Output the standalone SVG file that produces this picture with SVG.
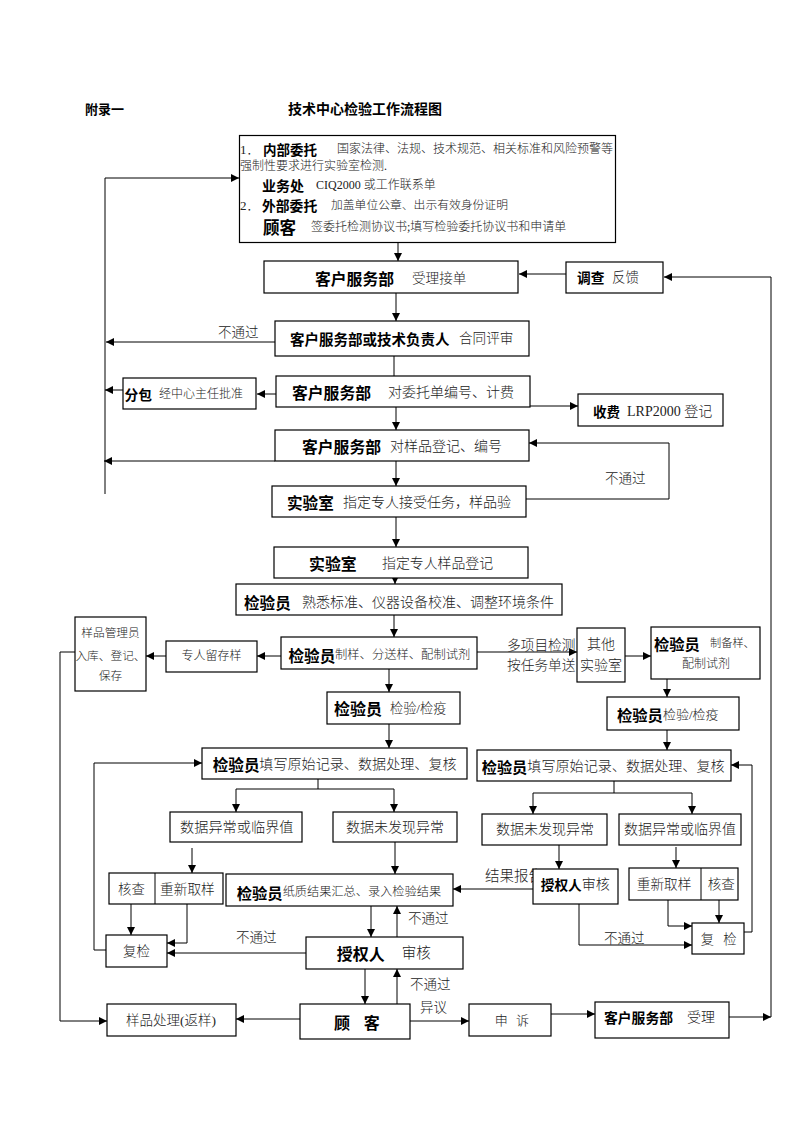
<svg xmlns="http://www.w3.org/2000/svg" width="800" height="1132" viewBox="0 0 800 1132">
<style>
.b{fill:#fff;stroke:#000;stroke-width:1.2}
.c{fill:none;stroke:#000;stroke-width:1}
.a{marker-end:url(#ah)}
text{dominant-baseline:central}
.h{font-family:"Noto Sans CJK SC",sans-serif;font-weight:bold;fill:#000}
.n{font-family:"Liberation Serif","Noto Sans CJK SC",serif;fill:#222;font-weight:300}
.m{text-anchor:middle}
</style>
<defs>
<marker id="ah" markerUnits="userSpaceOnUse" markerWidth="9" markerHeight="8" refX="8" refY="4" orient="auto">
<path d="M0,0 L8,4 L0,8 z" fill="#000"/>
</marker>
</defs>
<rect width="800" height="1132" fill="#fff"/>

<g id="title">
<text class="h" x="85" y="108" font-size="13">附录一</text>
<text class="h" x="288" y="108" font-size="14">技术中心检验工作流程图</text>
</g>

<g id="connectors">
<path class="c a" d="M398,242 V261"/>
<path class="c a" d="M105,494 V178 H239"/>
<path class="c a" d="M566,274 H519"/>
<path class="c a" d="M729,1017 H771"/>
<path class="c a" d="M771,1017 V277 H664"/>
<path class="c a" d="M396,277 V321"/>
<path class="c a" d="M275,342 H106"/>
<text class="n" x="218" y="332" font-size="13.5">不通过</text>
<path class="c" d="M394,356 V398"/>
<path class="c a" d="M276,394 H257"/>
<path class="c a" d="M123,390 H105"/>
<path class="c a" d="M530,406 H578"/>
<path class="c a" d="M396,407 V430"/>
<path class="c a" d="M275,461 H104"/>
<path class="c a" d="M396,461 V486"/>
<path class="c a" d="M526,499 H669 V443 H529"/>
<text class="n" x="605" y="478" font-size="13.5">不通过</text>
<path class="c a" d="M396,517 V547"/>
<path class="c a" d="M395,557 V584"/>
<path class="c a" d="M394,615 V637"/>
<path class="c a" d="M281,656 H257"/>
<path class="c a" d="M166,656 H146"/>
<path class="c a" d="M75,652 H60 V1021 H107"/>
<path class="c a" d="M477,652 H577"/>
<text class="n" x="507" y="645" font-size="13.7">多项目检测</text>
<text class="n" x="507" y="665" font-size="13.7">按任务单送</text>
<path class="c a" d="M625,656 H651"/>
<path class="c a" d="M667,679 V697"/>
<path class="c a" d="M389,669 V692"/>
<path class="c a" d="M389,724 V748"/>
<path class="c a" d="M667,730 V750"/>
<path class="c" d="M318,779 V789 M236,789 H394"/>
<path class="c a" d="M236,789 V812"/>
<path class="c a" d="M394,789 V812"/>
<path class="c a" d="M192,848 V873"/>
<path class="c a" d="M131,904 V935"/>
<path class="c a" d="M187,904 V943 H167"/>
<path class="c a" d="M106,950 H94 V763 H202"/>
<path class="c a" d="M395,842 V874"/>
<path class="c a" d="M371,906 V937"/>
<path class="c a" d="M397,937 V906"/>
<text class="n" x="408" y="918" font-size="13.5">不通过</text>
<path class="c a" d="M306,953 H167"/>
<text class="n" x="236" y="937" font-size="13.5">不通过</text>
<path class="c a" d="M365,969 V1004"/>
<path class="c a" d="M397,1004 V969"/>
<text class="n" x="410" y="984" font-size="13.5">不通过</text>
<text class="n" x="420" y="1007" font-size="13.5">异议</text>
<path class="c a" d="M300,1019 H236"/>
<path class="c a" d="M410,1021 H469"/>
<path class="c a" d="M551,1014 H595"/>
<path class="c" d="M614,781 V793 M533,793 H692"/>
<path class="c a" d="M533,793 V814"/>
<path class="c a" d="M692,793 V814"/>
<path class="c a" d="M559,845 V869"/>
<text class="n" x="485" y="876" font-size="14.5">结果报告</text>
<path class="c a" d="M533,889 H453"/>
<path class="c a" d="M579,904 V945 H692"/>
<text class="n" x="604" y="938" font-size="13.5">不通过</text>
<path class="c a" d="M676,847 V868"/>
<path class="c a" d="M668,900 V926 H692"/>
<path class="c a" d="M719,900 V923"/>
<path class="c a" d="M744,932 H752 V765 H731"/>
</g>

<g id="n_top">
<rect class="b" x="239.5" y="135.5" width="376" height="107"/>
<text y="149"><tspan class="n" x="240" font-size="13">1．</tspan><tspan class="h" x="263" font-size="13.5">内部委托</tspan><tspan class="n" x="337" font-size="12">国家法律、法规、技术规范、相关标准和风险预警等</tspan></text>
<text class="n" x="240" y="166" font-size="12">强制性要求进行实验室检测.</text>
<text y="185"><tspan class="h" x="262" font-size="14">业务处</tspan><tspan class="n" x="316" font-size="12">CIQ2000 或工作联系单</tspan></text>
<text y="205"><tspan class="n" x="240" font-size="13">2．</tspan><tspan class="h" x="262" font-size="13.8">外部委托</tspan><tspan class="n" x="331" font-size="11.8">加盖单位公章、出示有效身份证明</tspan></text>
<text y="226.5"><tspan class="h" x="263" font-size="16.5">顾客</tspan><tspan class="n" x="311" font-size="12">签委托检测协议书;填写检验委托协议书和申请单</tspan></text>
</g>

<g id="n_accept">
<rect class="b" x="264" y="261" width="254" height="32"/>
<text y="278"><tspan class="h" x="315" font-size="15.8">客户服务部</tspan><tspan class="n" x="412" font-size="13.6">受理接单</tspan></text>
</g>

<g id="n_survey">
<rect class="b" x="566" y="262" width="97" height="31"/>
<text y="277"><tspan class="h" x="577" font-size="13.7">调查</tspan><tspan class="n" x="612" font-size="13.5">反馈</tspan></text>
</g>

<g id="n_review">
<rect class="b" x="275" y="321" width="254" height="35"/>
<text y="338"><tspan class="h" x="290" font-size="14.5">客户服务部或技术负责人</tspan><tspan class="n" x="459" font-size="13.6">合同评审</tspan></text>
</g>

<g id="n_number">
<rect class="b" x="276" y="376" width="254" height="31"/>
<text y="392"><tspan class="h" x="292" font-size="15.8">客户服务部</tspan><tspan class="n" x="388" font-size="14">对委托单编号、计费</tspan></text>
</g>

<g id="n_sub">
<rect class="b" x="123" y="378" width="133" height="31"/>
<text y="394"><tspan class="h" x="124.5" font-size="13.7">分包</tspan><tspan class="n" x="159" font-size="12">经中心主任批准</tspan></text>
</g>

<g id="n_fee">
<rect class="b" x="578" y="394" width="145" height="32"/>
<text y="410.5"><tspan class="h" x="593" font-size="13.5">收费</tspan><tspan class="n" x="627" font-size="14">LRP2000 登记</tspan></text>
</g>

<g id="n_samplereg">
<rect class="b" x="275" y="430" width="254" height="31"/>
<text y="446"><tspan class="h" x="302" font-size="15.8">客户服务部</tspan><tspan class="n" x="390" font-size="14">对样品登记、编号</tspan></text>
</g>

<g id="n_lab1">
<rect class="b" x="272" y="486" width="254" height="31"/>
<text y="502"><tspan class="h" x="287" font-size="15.6">实验室</tspan><tspan class="n" x="343" font-size="14">指定专人接受任务，样品验</tspan></text>
</g>

<g id="n_lab2">
<rect class="b" x="274" y="547" width="254" height="31"/>
<text y="563"><tspan class="h" x="309" font-size="15.9">实验室</tspan><tspan class="n" x="382" font-size="13.9">指定专人样品登记</tspan></text>
</g>

<g id="n_prep">
<rect class="b" x="236" y="584" width="326" height="31"/>
<text y="601.5"><tspan class="h" x="244" font-size="15.6">检验员</tspan><tspan class="n" x="302" font-size="14">熟悉标准、仪器设备校准、调整环境条件</tspan></text>
</g>

<g id="n_make">
<rect class="b" x="281" y="637" width="196" height="32"/>
<text y="655"><tspan class="h" x="288.5" font-size="15.6">检验员</tspan><tspan class="n" x="335" font-size="12.3">制样、分送样、配制试剂</tspan></text>
</g>

<g id="n_keep">
<rect class="b" x="166" y="641" width="91" height="31"/>
<text class="n m" x="211.5" y="656" font-size="12">专人留存样</text>
</g>

<g id="n_mgr">
<rect class="b" x="75" y="617" width="71" height="74"/>
<text class="n m" x="110.5" y="633" font-size="11.7">样品管理员</text>
<text class="n m" x="110.5" y="656" font-size="11.7">入库、登记、</text>
<text class="n m" x="110.5" y="676" font-size="11.7">保存</text>
</g>

<g id="n_other">
<rect class="b" x="577" y="628" width="48" height="54"/>
<text class="n m" x="601" y="644" font-size="14">其他</text>
<text class="n m" x="601" y="665" font-size="14">实验室</text>
</g>

<g id="n_make2">
<rect class="b" x="651" y="627" width="109" height="52"/>
<text y="643"><tspan class="h" x="654" font-size="15.3">检验员</tspan><tspan class="n" x="710" font-size="11.2">制备样、</tspan></text>
<text class="n" x="682" y="664" font-size="12">配制试剂</text>
</g>

<g id="n_test">
<rect class="b" x="327" y="692" width="133" height="32"/>
<text y="708"><tspan class="h" x="334" font-size="16">检验员</tspan><tspan class="n" x="390" font-size="13.2">检验/检疫</tspan></text>
</g>

<g id="n_test2">
<rect class="b" x="607" y="697" width="132" height="33"/>
<text y="714"><tspan class="h" x="617" font-size="15.3">检验员</tspan><tspan class="n" x="663" font-size="13">检验/检疫</tspan></text>
</g>

<g id="n_rec">
<rect class="b" x="202" y="748" width="265" height="31"/>
<text y="763.5"><tspan class="h" x="212.7" font-size="15.6">检验员</tspan><tspan class="n" x="259.3" font-size="14.1">填写原始记录、数据处理、复核</tspan></text>
</g>

<g id="n_rec2">
<rect class="b" x="477" y="750" width="254" height="31"/>
<text y="765.5"><tspan class="h" x="481.7" font-size="15.2">检验员</tspan><tspan class="n" x="527.3" font-size="14.1">填写原始记录、数据处理、复核</tspan></text>
</g>

<g id="n_abn">
<rect class="b" x="170" y="812" width="132" height="30"/>
<text class="n" x="180" y="827" font-size="14.2">数据异常或临界值</text>
</g>

<g id="n_norm">
<rect class="b" x="333" y="812" width="124" height="30"/>
<text class="n" x="346" y="827" font-size="14">数据未发现异常</text>
</g>

<g id="n_norm2">
<rect class="b" x="482" y="814" width="125" height="31"/>
<text class="n" x="496" y="829.5" font-size="14">数据未发现异常</text>
</g>

<g id="n_abn2">
<rect class="b" x="619" y="814" width="122" height="31"/>
<text class="n" x="624" y="829.5" font-size="14">数据异常或临界值</text>
</g>

<g id="n_chk">
<rect class="b" x="109" y="873" width="114" height="31"/>
<path class="c" d="M155,873 V904"/>
<text class="n" x="118" y="889" font-size="13.4">核查</text>
<text class="n" x="160" y="889" font-size="13.7">重新取样</text>
</g>

<g id="n_re">
<rect class="b" x="106" y="935" width="61" height="32"/>
<text class="n m" x="136.5" y="951" font-size="13.5">复检</text>
</g>

<g id="n_sum">
<rect class="b" x="226" y="874" width="227" height="32"/>
<text y="892"><tspan class="h" x="236.7" font-size="15.3">检验员</tspan><tspan class="n" x="282.7" font-size="12.2">纸质结果汇总、录入检验结果</tspan></text>
</g>

<g id="n_auth">
<rect class="b" x="306" y="937" width="157" height="32"/>
<text y="953"><tspan class="h" x="336.7" font-size="16">授权人</tspan><tspan class="n" x="401.7" font-size="14.6">审核</tspan></text>
</g>

<g id="n_auth2">
<rect class="b" x="533" y="869" width="85" height="35"/>
<text y="884"><tspan class="h" x="540.7" font-size="13.7">授权人</tspan><tspan class="n" x="581.7" font-size="14">审核</tspan></text>
</g>

<g id="n_chk2">
<rect class="b" x="629" y="868" width="109" height="32"/>
<path class="c" d="M701,868 V900"/>
<text class="n" x="636.7" y="884.3" font-size="13.7">重新取样</text>
<text class="n" x="707.7" y="884.3" font-size="13.6">核查</text>
</g>

<g id="n_re2">
<rect class="b" x="692" y="923" width="52" height="31"/>
<text class="n" x="700.7" y="939" font-size="13.3" word-spacing="6">复 检</text>
</g>

<g id="n_cust">
<rect class="b" x="300" y="1004" width="110" height="35"/>
<text class="h" x="334" y="1021.5" font-size="16" word-spacing="10">顾 客</text>
</g>

<g id="n_ret">
<rect class="b" x="107" y="1004" width="129" height="32"/>
<text class="n m" x="171" y="1020" font-size="13.5">样品处理(返样)</text>
</g>

<g id="n_app">
<rect class="b" x="469" y="1004" width="82" height="32"/>
<text class="n m" x="512" y="1020" font-size="13" word-spacing="5">申 诉</text>
</g>

<g id="n_cs">
<rect class="b" x="595" y="1002" width="134" height="36"/>
<text y="1017"><tspan class="h" x="604" font-size="13.8">客户服务部</tspan><tspan class="n" x="687" font-size="14">受理</tspan></text>
</g>
</svg>
